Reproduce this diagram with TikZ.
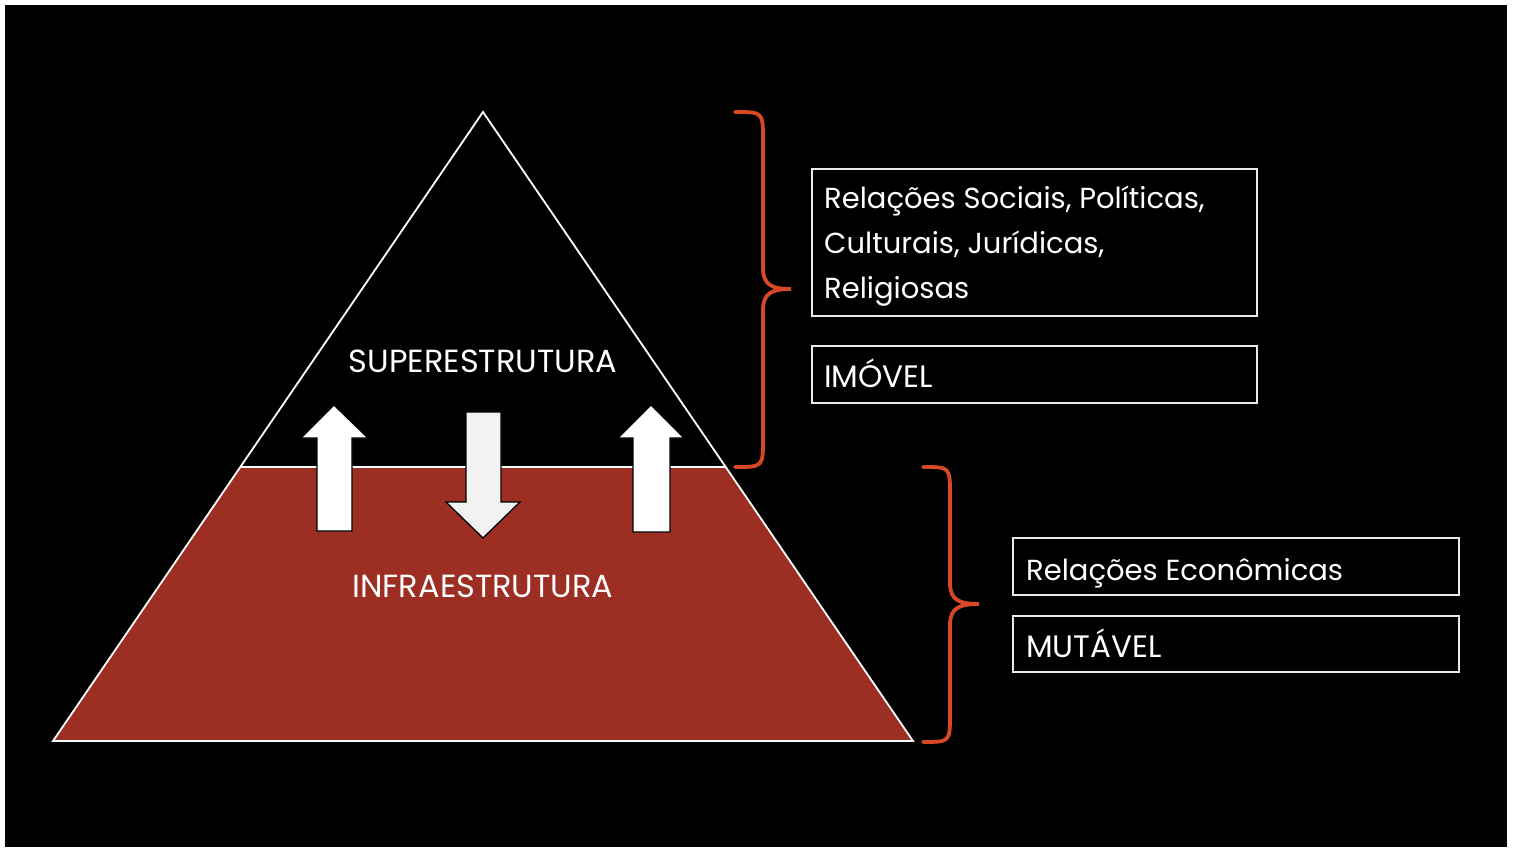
\documentclass[tikz,border=0pt]{standalone}
\usepackage{fontspec}
\setmainfont{Poppins}
\definecolor{infra}{RGB}{156,46,35}
\definecolor{bracecol}{RGB}{216,72,36}
\definecolor{arrowgray}{RGB}{242,242,242}
\tikzset{
  boxframe/.style={draw=white!92!black, line width=1.3pt, inner sep=0pt},
  boxtext/.style={text=white, inner sep=0pt, anchor=base west, font=\fontsize{29}{45}\selectfont, align=left},
  captext/.style={text=white, inner sep=0pt, anchor=base west, font=\fontsize{31}{36}\selectfont},
  lbltext/.style={text=white, inner sep=0pt, anchor=base, font=\fontsize{32}{36}\selectfont},
  bracestyle/.style={draw=bracecol, line width=3.8pt, line cap=round},
  arrowshape/.style={draw=black, line width=1.3pt, line join=miter}
}
\begin{document}
\begin{tikzpicture}[x=1pt,y=-1pt]
\useasboundingbox (0,0) rectangle (1515,848);
\fill[white] (0,0) rectangle (1515,848);
\fill[black] (5,5) rectangle (1507,847);
% lower trapezoid
\fill[infra] (240.3,467) -- (725.7,467) -- (913,741) -- (53,741) -- cycle;
% triangle outline
\draw[white, line width=1.8pt, line join=miter] (483,112) -- (913,741) -- (53,741) -- cycle;
\draw[white, line width=2.2pt] (240.3,467) -- (725.7,467);
% arrows
\draw[arrowshape, fill=white] (317,531) -- (317,438) -- (301,438) -- (334,405) -- (368,438) -- (352,438) -- (352,531) -- cycle;
\draw[arrowshape, fill=arrowgray] (466,412) -- (501,412) -- (501,502) -- (520,502) -- (483,538) -- (446,502) -- (466,502) -- cycle;
\draw[arrowshape, fill=white] (633,532) -- (633,438) -- (618,438) -- (651,405) -- (684,438) -- (670,438) -- (670,532) -- cycle;
% labels
\node[lbltext] (sup) at (483,372) {SUPERESTRUTURA};
\node[lbltext] (inf) at (483,597) {INFRAESTRUTURA};
% braces
\draw[bracestyle] (735,112) .. controls (763,112) .. (763,140) -- (763,268)
  .. controls (763,285) and (772,289) .. (791,289)
  .. controls (772,289) and (763,293) .. (763,310) -- (763,439)
  .. controls (763,467) .. (735,467);
\draw[bracestyle] (923,467) .. controls (950,467) .. (950,495) -- (950,583)
  .. controls (950,600) and (959,604) .. (979,604)
  .. controls (959,604) and (950,608) .. (950,625) -- (950,714)
  .. controls (950,742) .. (923,742);
% boxes
\node[boxframe, minimum width=445pt, minimum height=147pt] (b1) at (1034.5,242.5) {};
\node[boxframe, minimum width=445pt, minimum height=57pt] (b2) at (1034.5,374.5) {};
\node[boxframe, minimum width=446pt, minimum height=57pt] (b3) at (1236,566.5) {};
\node[boxframe, minimum width=446pt, minimum height=56pt] (b4) at (1236,644) {};
\node[boxtext] (t1) at (824,298) {Relações Sociais, Políticas,\\Culturais, Jurídicas,\\Religiosas};
\node[captext] (t2) at (824,387) {IMÓVEL};
\node[boxtext] (t3) at (1026,580) {Relações Econômicas};
\node[captext] (t4) at (1026,657) {MUTÁVEL};
\end{tikzpicture}
\end{document}
